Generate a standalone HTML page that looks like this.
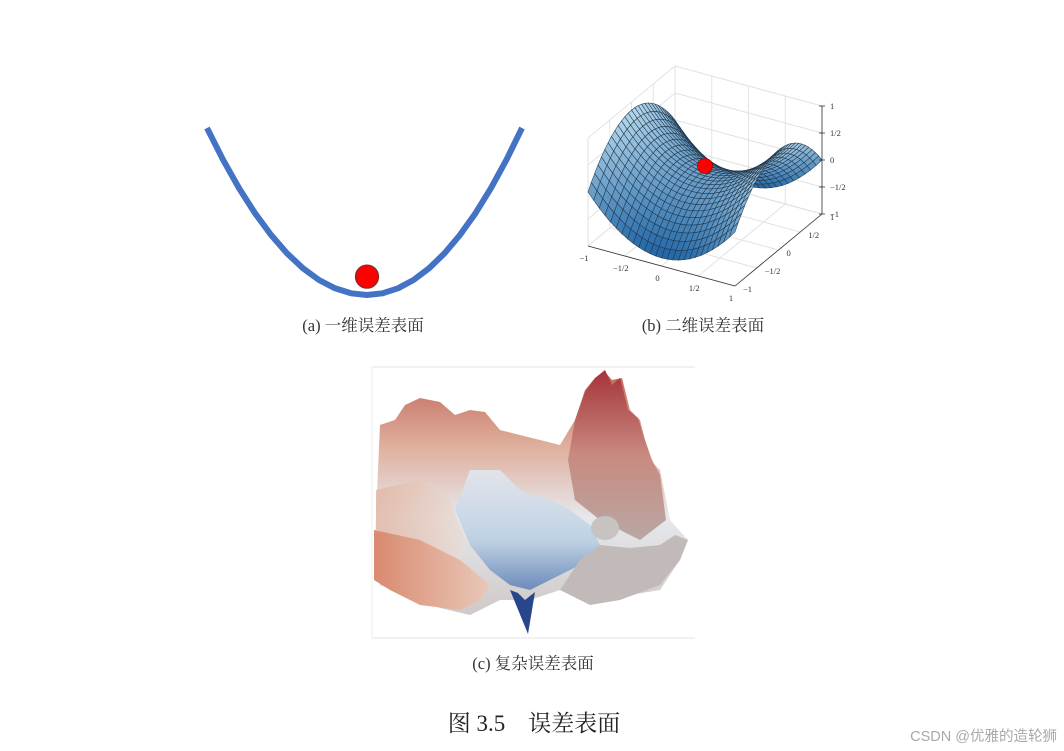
<!DOCTYPE html>
<html><head><meta charset="utf-8"><style>
html,body{margin:0;padding:0;background:#fff;width:1064px;height:751px;overflow:hidden}
svg text{font-family:"Liberation Serif","Noto Serif CJK SC",serif}
</style></head><body>
<svg id="fig" width="1064" height="751" viewBox="0 0 1064 751" xmlns="http://www.w3.org/2000/svg">
<defs>
<linearGradient id="cplx" x1="0" y1="0" x2="0" y2="1">
<stop offset="0" stop-color="#c0675a"/><stop offset="0.3" stop-color="#dfae9c"/><stop offset="0.6" stop-color="#e6e8ec"/><stop offset="1" stop-color="#cfc9c7"/></linearGradient>
<linearGradient id="peak" x1="0" y1="0" x2="0" y2="1">
<stop offset="0" stop-color="#a5333a"/><stop offset="0.5" stop-color="#c98a80"/><stop offset="1" stop-color="#b9a7a5"/></linearGradient>
<linearGradient id="valley" x1="0" y1="0" x2="0" y2="1">
<stop offset="0" stop-color="#e3e9f0"/><stop offset="0.6" stop-color="#b6cde2"/><stop offset="1" stop-color="#5a7fb8"/></linearGradient>
<linearGradient id="leftslab" x1="0" y1="0" x2="1" y2="0">
<stop offset="0" stop-color="#d98a70"/><stop offset="1" stop-color="#e9c8b8"/></linearGradient>
<linearGradient id="leftmid" x1="0" y1="0" x2="1" y2="0">
<stop offset="0" stop-color="#e2b5a2"/><stop offset="1" stop-color="#e8dcd6"/></linearGradient>
</defs>
<g id="curve1d"></g>
<g id="saddle"></g>
<g>
<line x1="372" y1="367" x2="695" y2="367" stroke="#e3e3e3"/>
<line x1="372" y1="638" x2="695" y2="638" stroke="#e3e3e3"/>
<line x1="372" y1="367" x2="372" y2="638" stroke="#eee"/>
<path d="M380,425 L395,420 L405,405 L420,398 L440,402 L455,415 L470,410 L485,412 L500,430 L520,435 L540,440 L560,445 L575,420 L585,390 L595,378 L605,372 L612,380 L622,378 L630,410 L640,420 L650,460 L660,470 L670,520 L688,540 L680,560 L660,590 L600,600 L560,590 L530,600 L500,600 L470,615 L440,608 L405,595 L380,585 L374,560 Z" fill="url(#cplx)"/>
<path d="M376,490 L420,480 L450,500 L465,540 L460,560 L420,545 L376,530 Z" fill="url(#leftmid)" opacity="0.8"/>
<path d="M568,460 L575,420 L585,392 L595,378 L605,370 L612,385 L620,378 L628,410 L638,418 L645,440 L652,460 L660,475 L666,520 L640,540 L600,520 L575,500 Z" fill="url(#peak)"/>
<path d="M470,470 L500,470 L520,490 L550,500 L570,510 L590,525 L600,545 L590,560 L560,575 L530,590 L510,585 L490,570 L470,545 L455,510 Z" fill="url(#valley)" opacity="0.85"/>
<path d="M374,530 L420,540 L460,560 L490,585 L480,600 L460,610 L420,605 L390,590 L374,580 Z" fill="url(#leftslab)"/>
<path d="M560,590 L580,560 L600,545 L630,548 L660,545 L675,535 L688,540 L680,560 L660,585 L620,600 L590,605 Z" fill="#c2bab8"/>
<path d="M510,590 L518,593 L525,600 L535,592 L528,634 Z" fill="#27468b"/>
<ellipse cx="605" cy="528" rx="14" ry="12" fill="#c7c3c1"/>
</g>
<text x="363" y="331" font-size="16.5" text-anchor="middle" fill="#333">(a) 一维误差表面</text>
<text x="703" y="331" font-size="16.5" text-anchor="middle" fill="#333">(b) 二维误差表面</text>
<text x="533" y="669" font-size="16.5" text-anchor="middle" fill="#333">(c) 复杂误差表面</text>
<text x="534" y="731" font-size="23" text-anchor="middle" fill="#222">图 3.5　误差表面</text>
<text x="1057" y="741" font-size="14.5" text-anchor="end" fill="#a9a9a9" style="font-family:'Liberation Sans','Noto Sans CJK SC',sans-serif">CSDN @优雅的造轮狮</text>
</svg>
<script>
// ---- Panel (a): 1D error curve data ----
const curveX = [-1,-0.9,-0.8,-0.7,-0.6,-0.5,-0.4,-0.3,-0.2,-0.1,0,0.1,0.2,0.3,0.4,0.5,0.6,0.7,0.8,0.9,1];
const curveY = [1,0.81,0.64,0.49,0.36,0.25,0.16,0.09,0.04,0.01,0,0.01,0.04,0.09,0.16,0.25,0.36,0.49,0.64,0.81,1];
const ballX = [0];
const ballY = [0.11];
// ---- Panel (b): saddle axis ticks ----
const tickVals = [-1,-0.5,0,0.5,1];
const tickLabels = ["\u22121","\u22121/2","0","1/2","1"];
const saddlePointX = [0];
const saddlePointY = [0];

const NS="http://www.w3.org/2000/svg";
function mk(t,a,p){const e=document.createElementNS(NS,t);for(const k in a)e.setAttribute(k,a[k]);p.appendChild(e);return e;}

const ax=v=>367+(v<0? v*160 : v*155);
const ay=v=>295-v*167;
const g1=document.getElementById('curve1d');
let d='';
curveX.forEach((x,i)=>{d+=(i?'L':'M')+ax(x).toFixed(1)+','+ay(curveY[i]).toFixed(1);});
const pth=mk('path',{d:d,fill:'none',stroke:'#4472c4','stroke-width':6,'stroke-linejoin':'round'},g1);


const ball=mk('circle',{cx:ax(ballX[0]),cy:ay(ballY[0]),r:11.5,fill:'#f00',stroke:'#8a2a2a','stroke-width':1.3},g1);



// Panel b projection
const O=[705,176];
function P(x,y,z){return [O[0]+x*73.5+y*43.5, O[1]+x*20-y*36-z*54];}
const g2=document.getElementById('saddle');
const grid=mk('g',{stroke:'#e2e2e2','stroke-width':1,fill:'none'},g2);


tickVals.forEach(v=>{
  let a=P(-1,v,-1),b=P(-1,v,1); mk('line',{x1:a[0],y1:a[1],x2:b[0],y2:b[1]},grid);
  a=P(v,1,-1);b=P(v,1,1); mk('line',{x1:a[0],y1:a[1],x2:b[0],y2:b[1]},grid);
  a=P(-1,-1,v);b=P(-1,1,v); mk('line',{x1:a[0],y1:a[1],x2:b[0],y2:b[1]},grid);
  a=P(-1,1,v);b=P(1,1,v); mk('line',{x1:a[0],y1:a[1],x2:b[0],y2:b[1]},grid);
  a=P(v,-1,-1);b=P(v,1,-1); mk('line',{x1:a[0],y1:a[1],x2:b[0],y2:b[1]},grid);
  a=P(-1,v,-1);b=P(1,v,-1); mk('line',{x1:a[0],y1:a[1],x2:b[0],y2:b[1]},grid);
});
const N=26, zs=0.85;
const f=(x,y)=>(x*x-y*y)*zs;
const quads=[];
for(let i=0;i<N;i++)for(let j=0;j<N;j++){
  const x0=-1+2*i/N,x1=-1+2*(i+1)/N,y0=-1+2*j/N,y1=-1+2*(j+1)/N;
  const pts=[[x0,y0],[x1,y0],[x1,y1],[x0,y1]].map(q=>P(q[0],q[1],f(q[0],q[1])));
  const xm=(x0+x1)/2,ym=(y0+y1)/2;
  quads.push({pts,depth:ym-xm*0.5,z:f(xm,ym)});
}
quads.sort((a,b)=>b.depth-a.depth);
const mesh=mk('g',{stroke:'#1e3346','stroke-width':0.6,'stroke-opacity':0.85},g2);


quads.forEach(q=>{
  const t=(q.z/zs+1)/2;
  const r=Math.round(30+t*150),g=Math.round(100+t*115),b=Math.round(165+t*70);
  mk('polygon',{points:q.pts.map(p=>p[0].toFixed(1)+','+p[1].toFixed(1)).join(' '),fill:`rgb(${r},${g},${b})`},mesh);
});
const axes=mk('g',{stroke:'#333','stroke-width':0.8,fill:'none'},g2);


let a=P(-1,-1,-1),b=P(1,-1,-1); mk('line',{x1:a[0],y1:a[1],x2:b[0],y2:b[1]},axes);
a=P(1,-1,-1);b=P(1,1,-1); mk('line',{x1:a[0],y1:a[1],x2:b[0],y2:b[1]},axes);
a=P(1,1,-1);b=P(1,1,1); mk('line',{x1:a[0],y1:a[1],x2:b[0],y2:b[1]},axes);
tickVals.forEach((v,i)=>{
  let p=P(v,-1,-1);
  let t=mk('text',{x:p[0]-4,y:p[1]+15,'font-size':8.5,fill:'#333','text-anchor':'middle'},g2);t.textContent=tickLabels[i];
  
  
  p=P(1,v,-1);
  t=mk('text',{x:p[0]+8,y:p[1]+6,'font-size':8.5,fill:'#333'},g2);t.textContent=tickLabels[i];
  
  
  p=P(1,1,v);
  t=mk('text',{x:p[0]+8,y:p[1]+3,'font-size':8.5,fill:'#333'},g2);t.textContent=tickLabels[i];
  
  
  mk('line',{x1:p[0]-3,y1:p[1],x2:p[0]+3,y2:p[1]},axes);
});
const sp=P(saddlePointX[0],saddlePointY[0],f(saddlePointX[0],saddlePointY[0]));
const ball2=mk('circle',{cx:sp[0],cy:sp[1]-10,r:7.5,fill:'#f00',stroke:'#a00','stroke-width':0.8},g2);


</script>
</body></html>
